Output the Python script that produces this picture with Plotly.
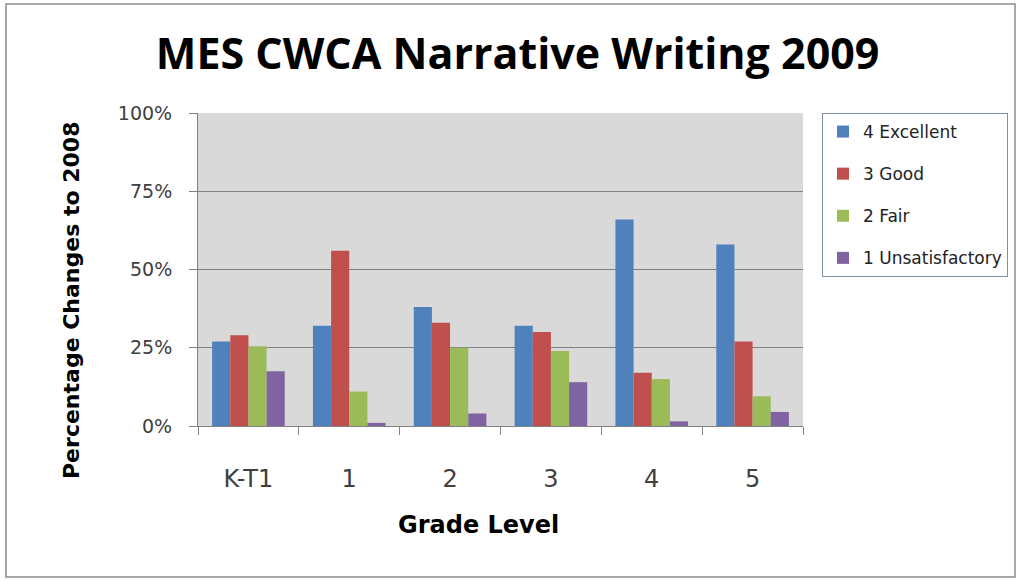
import plotly.graph_objects as go

categories = ["K-T1", "1", "2", "3", "4", "5"]
series_names = ["4 Excellent", "3 Good", "2 Fair", "1 Unsatisfactory"]
excellent = [0.27, 0.32, 0.38, 0.32, 0.66, 0.58]
good = [0.29, 0.56, 0.33, 0.30, 0.17, 0.27]
fair = [0.255, 0.11, 0.25, 0.24, 0.15, 0.095]
unsatisfactory = [0.175, 0.01, 0.04, 0.14, 0.015, 0.045]
y_ticks = [0, 0.25, 0.5, 0.75, 1.0]
y_tick_labels = ["0%", "25%", "50%", "75%", "100%"]
colors = ["#4f81bd", "#c0504d", "#9bbb59", "#8064a2"]

values = [excellent, good, fair, unsatisfactory]

W, H = 1021, 581
L, R, T, B = 198, 218, 113, 155
pw = W - L - R
ph = H - T - B

def px_x(p):
    return (p - L) / pw

def px_y(p):
    return (H - B - p) / ph

fig = go.Figure()
for i, (name, vals) in enumerate(zip(series_names, values)):
    fig.add_trace(go.Bar(x=categories, y=vals, name=name, marker_color=colors[i],
                         marker_line_width=0, legendgroup=name))

# outer chart border
fig.add_shape(type="rect", xref="paper", yref="paper",
              x0=px_x(6), x1=px_x(W - 6), y0=px_y(H - 4), y1=px_y(4),
              line=dict(color="#8c8c8c", width=1.5), fillcolor="rgba(0,0,0,0)", layer="below")

fig.add_annotation(text="<b>Percentage Changes to 2008</b>", xref="paper", yref="paper",
                   x=px_x(71), y=px_y(301), textangle=-90, showarrow=False,
                   xanchor="center", yanchor="middle",
                   font=dict(family="DejaVu Sans, sans-serif", size=22, color="black"))
fig.add_annotation(text="<b>Grade Level</b>", xref="paper", yref="paper",
                   x=px_x(478), y=px_y(525), showarrow=False,
                   xanchor="center", yanchor="middle",
                   font=dict(family="DejaVu Sans, sans-serif", size=24, color="black"))

fig.update_layout(
    width=W, height=H,
    margin=dict(l=L, r=R, t=T, b=B, autoexpand=False),
    paper_bgcolor="white",
    plot_bgcolor="#d9d9d9",
    barmode="group", bargap=0.28, bargroupgap=0,
    title=dict(text="<b>MES CWCA Narrative Writing 2009</b>", x=0.507, xanchor="center",
               y=1 - 54 / H, yanchor="middle",
               font=dict(family="Open Sans, sans-serif", size=43, color="black")),
    legend=dict(x=px_x(822), xanchor="left", y=1.0, yanchor="top",
                bordercolor="#7f8fa6", borderwidth=1, bgcolor="white",
                font=dict(family="DejaVu Sans, sans-serif", size=17, color="#222"),
                traceorder="grouped", tracegroupgap=17),
    xaxis=dict(showgrid=False, showline=True, linecolor="#808080", linewidth=1,
               ticks="outside", tickson="boundaries", ticklen=8, tickcolor="#808080",
               tickfont=dict(family="DejaVu Sans, sans-serif", size=24, color="#404040"),
               ticklabelstandoff=31),
    yaxis=dict(range=[0, 1], tickvals=y_ticks, ticktext=y_tick_labels,
               showgrid=True, gridcolor="#808080", gridwidth=1,
               showline=True, linecolor="#808080", linewidth=1, zeroline=False,
               ticks="outside", ticklen=8, tickcolor="#808080",
               tickfont=dict(family="DejaVu Sans, sans-serif", size=19, color="#404040"),
               ticklabelstandoff=13),
)

fig.write_html("out.html", config={"displayModeBar": False},
               post_script="document.body.style.margin='0';")
